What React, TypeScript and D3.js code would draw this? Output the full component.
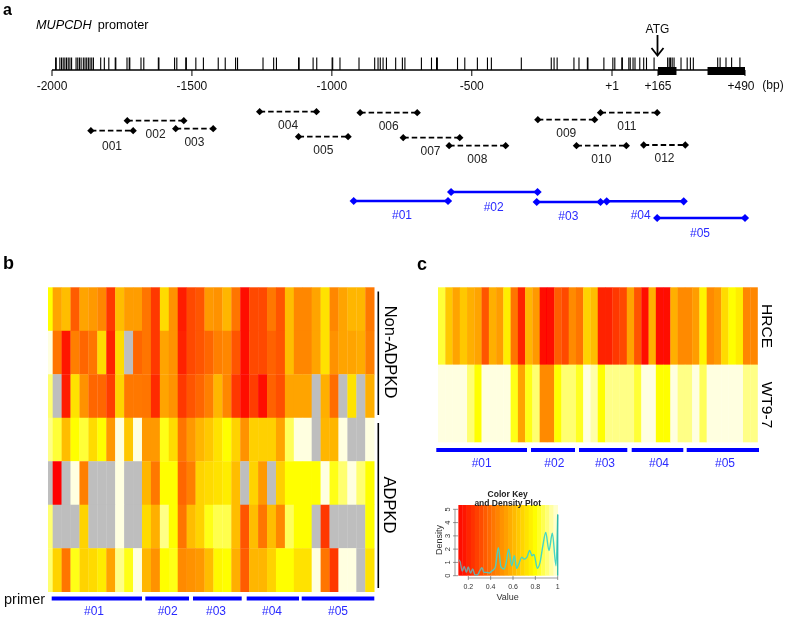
import React from "react";
import * as d3 from "d3";

// ---------- data ----------
const cpgSites = [-1987,-1985,-1972,-1966,-1960,-1954,-1948,-1942,-1936,-1930,-1914,-1908,-1902,-1896,-1888,-1882,-1876,-1870,-1864,-1858,-1852,-1826,-1813,-1797,-1774,-1772,-1732,-1724,-1722,-1682,-1672,-1620,-1618,-1562,-1554,-1522,-1520,-1486,-1459,-1406,-1381,-1344,-1337,-1246,-1208,-1198,-1119,-1117,-1067,-1054,-999,-997,-971,-903,-847,-835,-827,-817,-805,-772,-748,-739,-680,-644,-626,-623,-551,-525,-480,-444,-430,-323,-216,-206,-195,-135,-117,-87,-85,-28,4,11,36,38,61,66,76,83,100,114,124,151,201,207,212,218,225,251,274,286,297,388,397,419,440,471];
const axisTicks = [-2000,-1500,-1000,-500,1,165,490];
const axisLabels = ["-2000","-1500","-1000","-500","+1","+165","+490"];
const exons: [number, number][] = [[165,234],[350,490]];

const ampliconNames = ["001","002","003","004","005","006","007","008","009","010","011","012"];
const ampliconStart = [-1861,-1731,-1558,-1258,-1119,-899,-745,-581,-264,-126,-40,114];
const ampliconEnd = [-1710,-1529,-1424,-1055,-942,-695,-543,-379,-61,52,162,267];
const primerNames = ["#01","#02","#03","#04","#05"];
const primerStart = [-922,-574,-268,-18,162];
const primerEnd = [-585,-265,-40,261,490];

const _ = null;
const ptNonAdpkd1 = [.8,.55,.62,.35,.55,.52,.47,.25,.62,.53,.53,.42,.25,.7,.5,.18,.3,.33,.52,.5,.6,.42,.12,.3,.3,.43,.33,.62,.47,.47,.55,.72,.47,.55,.6,.6,.43];
const ptNonAdpkd2 = [1,.42,.15,.45,.38,.42,.7,.2,.7,_,.38,.42,.25,.55,.5,.2,.3,.33,.38,.45,.47,.33,.13,.3,.3,.37,.33,.62,.47,.47,.55,.72,.5,.55,.55,.57,.45];
const ptNonAdpkd3 = [.9,_,.17,.72,.5,.38,.38,.27,.68,.43,.43,.42,.22,.55,.5,.25,.33,.38,.45,.6,.47,.25,.12,.27,.14,.37,.32,.55,.55,.55,_,.58,.4,_,.72,_,.58];
const ptAdpkd1 = [.92,.85,.62,.8,.85,.7,.8,.52,1,.65,1,.52,.52,.82,.7,.42,.52,.6,.65,.72,.8,.68,.5,.67,.67,.67,.55,.88,1,1,_,.6,.6,1,_,_,1];
const ptAdpkd2 = [_,.1,_,1,.45,_,_,_,1,_,_,.6,.43,.8,.8,.38,.45,.68,.7,.72,.75,.62,_,.68,.52,_,.67,.8,.8,.8,.8,1,.82,.9,1,.9,.8];
const ptAdpkd3 = [.9,_,_,_,.68,_,_,_,1,_,_,.7,.58,.92,.8,.42,.62,.68,.82,.87,.87,.62,.33,.62,.42,.62,.47,.88,.8,.8,_,.25,_,_,_,_,.8];
const ptAdpkd4 = [.9,.68,.42,.82,.68,.7,.75,.55,.92,.82,1,.6,.5,.8,.82,.48,.5,.52,.62,.78,.8,.58,.35,.6,.6,.68,.8,.8,.72,.72,1,.42,.25,1,1,_,.72];
const patientRows = [ptNonAdpkd1,ptNonAdpkd2,ptNonAdpkd3,ptAdpkd1,ptAdpkd2,ptAdpkd3,ptAdpkd4];

const cellHrce = [.85,.65,.55,.65,.58,.55,.33,.58,.53,.75,.42,.2,.6,.52,.12,.12,.35,.3,.48,.42,.68,.62,.2,.2,.25,.3,.55,.33,.13,.58,.12,.12,.58,.48,.48,.53,.77,.48,.52,.7,.8,.75,.47,.47];
const cellWt97 = [1,1,1,1,.9,.8,1,1,1,1,.82,.55,.82,.9,.48,.48,.8,.9,.9,.83,1,.95,.8,.92,.92,.92,.92,.85,1,1,.8,.8,1,.92,.92,1,.88,1,1,1,1,1,.92,.92];
const cellRows = [cellHrce,cellWt97];

const densityValue = [.11,.125,.146,.164,.182,.2,.22,.24,.26,.28,.305,.322,.34,.364,.388,.41,.44,.469,.493,.52,.537,.561,.588,.612,.633,.657,.678,.7,.725,.749,.77,.788,.818,.842,.866,.893,.922,.952,.985,1];
const density = [1.18,1.1,.35,.7,.25,.65,.2,.5,.05,.05,.4,.6,.25,.25,.2,.35,.6,2.1,.65,.5,.9,2,.75,1.5,.55,1,1.4,1.25,1.4,1.9,1.5,1.6,.55,1,2.2,3.25,1.9,3.2,.75,4.6];
const keyTicksX = [.2,.4,.6,.8,1];
const keyTicksY = [0,1,2,3,4,5];

// ---------- layout ----------
const W = 787, H = 618;
const FONT = "'Liberation Sans', Arial, sans-serif";
const BLUE = "#0000ff", TXTBLUE = "#2a2aff";
const axisLabelDx = [0,0,0,0,0,0,-4];
const ampY = [130.7,120.7,128.7,111.7,136.7,112.7,137.7,145.7,119.7,145.7,112.7,145];
const ampLabelDx = [0,0,0,0,0,0,-1,0,0,0,-2,0];
const ampLabelDy = [14.6,13,13,13,12.6,13,12.6,12.6,13,12.6,13,12.3];
const primerY = [201,192,202,201.3,218];
const primerLabelX = [402,493.7,568.3,640.7,700];
const primerLabelY = [214.5,206.3,215.3,214.3,232];

const bBarX: [number,number][] = [[51.7,142],[145.3,189],[193,241.7],[246.7,299],[301.7,374.3]];
const bBarLabelX = [94,167.7,216,272,338];
const cBarX: [number,number][] = [[436.3,527],[531,575],[579,627.3],[631.7,683.3],[686.7,759]];
const cBarLabelX = [481.7,554.3,605,659,725];

const xBp = d3.scaleLinear().domain([-2000,1,165,490]).range([52,612,658,745]);
const heat = d3.scaleLinear<string>().domain([.1,.8,1]).range(["#ff0000","#ffff00","#ffffe0"]).clamp(true);
const GRAY = "#bebebe";

const bX = d3.scaleLinear().domain([1,37]).range([52.67,374.2]);
const bY = d3.scaleLinear().domain([0,7]).range([287.3,591.7]);
const cX = d3.scaleLinear().domain([0,44]).range([438,757.5]);
const cY = d3.scaleLinear().domain([0,2]).range([287.3,442]);

const kX = d3.scaleLinear().domain([.2,1]).range([468.3,557.7]);
const kY = d3.scaleLinear().domain([0,5]).range([575.7,509.3]);
const KEY_BINS = 24;
const keyEdge = d3.scaleLinear().domain([0,KEY_BINS]).range([.111,1]);
const densityLine = d3.line<number>()
  .x((_d,i)=>kX(densityValue[i]))
  .y(d=>kY(d))
  .curve(d3.curveMonotoneX);

const diamond = (size:number)=>d3.symbol().type(d3.symbolSquare).size(size)() as string;

function Span({x1,x2,y,color,sw,dash,size}:{x1:number;x2:number;y:number;color:string;sw:number;dash?:string;size:number}){
  return <g>
    <line x1={x1} x2={x2} y1={y} y2={y} stroke={color} strokeWidth={sw} strokeDasharray={dash}/>
    <path d={diamond(size)} transform={`translate(${x1},${y}) rotate(45)`} fill={color}/>
    <path d={diamond(size)} transform={`translate(${x2},${y}) rotate(45)`} fill={color}/>
  </g>;
}

export default function App(){
  return (
    <svg width={W} height={H} viewBox={`0 0 ${W} ${H}`} style={{position:"absolute",left:0,top:0,background:"#fff",fontFamily:FONT}}>
      <defs>
        <filter id="soft" x="-2%" y="-2%" width="104%" height="104%"><feGaussianBlur stdDeviation="0.45"/></filter>
        <filter id="softer" x="-2%" y="-2%" width="104%" height="104%"><feGaussianBlur stdDeviation="0.3"/></filter>
        <clipPath id="keyClip"><rect x={kX(.111)} y={505} width={kX(1)-kX(.111)+1} height={71}/></clipPath>
        <linearGradient id="densityStroke" gradientUnits="userSpaceOnUse" x1={kX(.11)} x2={kX(.5)} y1={0} y2={0}>
          <stop offset="0" stopColor="#8f8f8f"/>
          <stop offset="1" stopColor="#45d6c4"/>
        </linearGradient>
      </defs>
      <g filter="url(#softer)">
        {/* panel a */}
        <text x={3} y={15} fontSize={16} fontWeight="bold">a</text>
        <text x={36} y={29} fontSize={12.7}><tspan fontStyle="italic">MUPCDH</tspan><tspan dx={6}>promoter</tspan></text>
        {cpgSites.map((s,i)=><line key={i} x1={xBp(s)} x2={xBp(s)} y1={57.5} y2={70} stroke="#000" strokeWidth={1.1}/>)}
        <line x1={52} x2={745} y1={70} y2={70} stroke="#000" strokeWidth={1.7}/>
        {axisTicks.map((t,i)=><g key={t}>
          <line x1={xBp(t)} x2={xBp(t)} y1={70} y2={76} stroke="#000" strokeWidth={1}/>
          <text x={xBp(t)+axisLabelDx[i]} y={90} fontSize={12} textAnchor="middle" fill="#111">{axisLabels[i]}</text>
        </g>)}
        {exons.map(e=><rect key={e[0]} x={xBp(e[0])} y={67} width={xBp(e[1])-xBp(e[0])} height={8} fill="#000"/>)}
        <text x={773} y={89} fontSize={12} textAnchor="middle" fill="#111">(bp)</text>
        <text x={657.5} y={33} fontSize={12} textAnchor="middle" fill="#111">ATG</text>
        <line x1={657.5} x2={657.5} y1={35} y2={55} stroke="#000" strokeWidth={1.8}/>
        <path d="M651.5 48 L657.5 55.5 L663.5 48" fill="none" stroke="#000" strokeWidth={1.8}/>

        {ampliconNames.map((n,i)=>{
          const a=xBp(ampliconStart[i]), b=xBp(ampliconEnd[i]);
          return <g key={n}>
            <Span x1={a} x2={b} y={ampY[i]} color="#000" sw={1.8} dash="5.5 3" size={27}/>
            <text x={(a+b)/2+ampLabelDx[i]} y={ampY[i]+ampLabelDy[i]+4.5} fontSize={12} textAnchor="middle" fill="#222">{n}</text>
          </g>;
        })}
        {primerNames.map((n,i)=><g key={n}>
          <Span x1={xBp(primerStart[i])} x2={xBp(primerEnd[i])} y={primerY[i]} color={BLUE} sw={2.4} size={34}/>
          <text x={primerLabelX[i]} y={primerLabelY[i]+4.5} fontSize={12} textAnchor="middle" fill={TXTBLUE}>{n}</text>
        </g>)}

        {/* panel b */}
        <text x={3} y={269} fontSize={18} fontWeight="bold">b</text>
        <text x={417} y={270} fontSize={18} fontWeight="bold">c</text>
      </g>
      <g filter="url(#soft)">
        {patientRows.map((row,r)=>row.map((v,c)=>{
          const x0 = c===0 ? 48 : bX(c);
          const x1 = bX(c+1);
          return <rect key={`${r}-${c}`} x={x0} y={bY(r)} width={x1-x0+0.3} height={bY(r+1)-bY(r)+0.3} fill={v===null?GRAY:heat(v)}/>;
        }))}
        {cellRows.map((row,r)=>row.map((v,c)=>
          <rect key={`${r}-${c}`} x={cX(c)} y={cY(r)} width={cX(c+1)-cX(c)+0.3} height={cY(r+1)-cY(r)+0.3} fill={heat(v)}/>
        ))}
      </g>
      <g filter="url(#softer)">
        <line x1={378.3} x2={378.3} y1={291.5} y2={415} stroke="#000" strokeWidth={1.6}/>
        <line x1={378.3} x2={378.3} y1={423} y2={588} stroke="#000" strokeWidth={1.6}/>
        <text transform="translate(385,352) rotate(90)" fontSize={16.5} textAnchor="middle" fill="#000">Non-ADPKD</text>
        <text transform="translate(384,505) rotate(90)" fontSize={16.5} textAnchor="middle" fill="#000">ADPKD</text>
        <text transform="translate(762,326) rotate(90)" fontSize={15.5} textAnchor="middle" fill="#000">HRCE</text>
        <text transform="translate(762,405) rotate(90)" fontSize={15.5} textAnchor="middle" fill="#000">WT9-7</text>
        <text x={4} y={604} fontSize={14.5} fill="#111">primer</text>
        {bBarX.map((b,i)=><g key={i}>
          <rect x={b[0]} y={596.5} width={b[1]-b[0]} height={4} fill={BLUE}/>
          <text x={bBarLabelX[i]} y={615} fontSize={12} textAnchor="middle" fill={TXTBLUE}>{primerNames[i]}</text>
        </g>)}
        {cBarX.map((b,i)=><g key={i}>
          <rect x={b[0]} y={448} width={b[1]-b[0]} height={4} fill={BLUE}/>
          <text x={cBarLabelX[i]} y={466.5} fontSize={12} textAnchor="middle" fill={TXTBLUE}>{primerNames[i]}</text>
        </g>)}
      </g>
      <g filter="url(#soft)">
        {d3.range(KEY_BINS).map(i=>{
          const a=keyEdge(i), b=keyEdge(i+1);
          return <rect key={i} x={kX(a)} y={505} width={kX(b)-kX(a)+0.3} height={70.7} fill={heat((a+b)/2)}/>;
        })}
        <path d={densityLine(density) as string} fill="none" stroke="url(#densityStroke)" strokeWidth={1.4} clipPath="url(#keyClip)"/>
        <line x1={kX(1)} x2={kX(1)} y1={kY(0)} y2={kY(4.6)} stroke="#30b8a8" strokeWidth={1.3}/>
        <line x1={kX(.2)} x2={kX(1)} y1={578} y2={578} stroke="#555" strokeWidth={0.6}/>
        {keyTicksX.map(t=><g key={t}>
          <line x1={kX(t)} x2={kX(t)} y1={576} y2={580} stroke="#555" strokeWidth={0.6}/>
          <text x={kX(t)} y={589} fontSize={7} textAnchor="middle" fill="#333">{t}</text>
        </g>)}
        <text x={507.7} y={600} fontSize={9} textAnchor="middle" fill="#333">Value</text>
        <line x1={455} x2={455} y1={kY(0)} y2={kY(5)} stroke="#555" strokeWidth={0.6}/>
        {keyTicksY.map(t=><g key={t}>
          <line x1={453} x2={458} y1={kY(t)} y2={kY(t)} stroke="#555" strokeWidth={0.6}/>
          <text transform={`translate(449.5,${kY(t)}) rotate(-90)`} fontSize={7.5} textAnchor="middle" fill="#333">{t}</text>
        </g>)}
        <text transform="translate(441.5,540) rotate(-90)" fontSize={9} textAnchor="middle" fill="#333">Density</text>
      </g>
      <g filter="url(#softer)">
        {/* colour key title sits over the top edge of the key */}
        <text x={507.7} y={497} fontSize={8.5} fontWeight="bold" textAnchor="middle" fill="#222">Color Key</text>
        <text x={507.7} y={505.5} fontSize={8.5} fontWeight="bold" textAnchor="middle" fill="#222">and Density Plot</text>
      </g>
    </svg>
  );
}
